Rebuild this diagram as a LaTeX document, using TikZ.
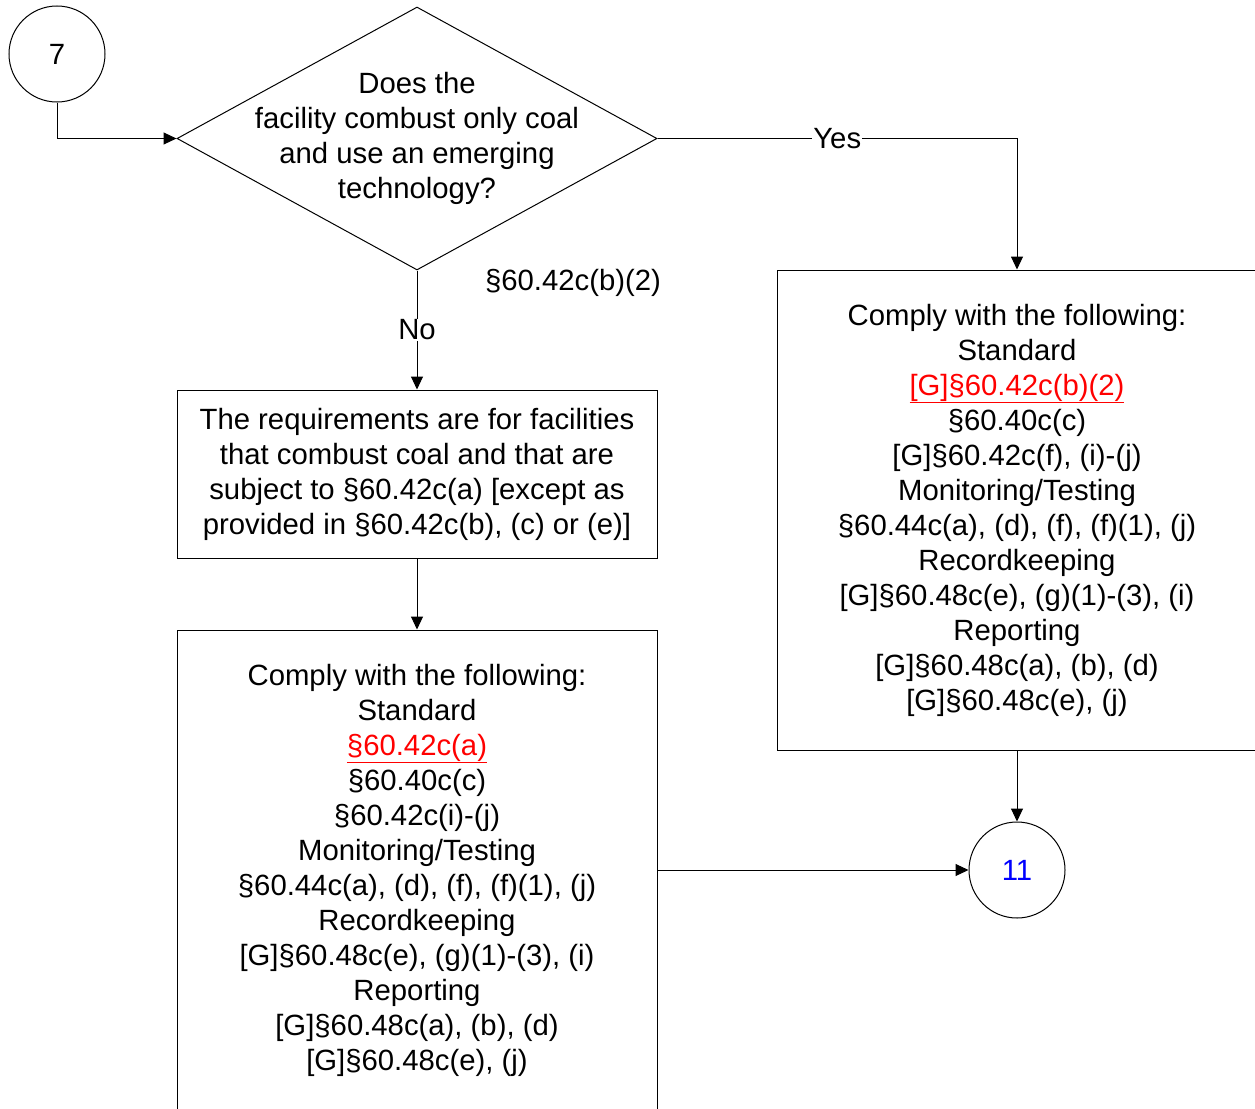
\documentclass[tikz,border=0pt]{standalone}
\usepackage{fontspec}
\setmainfont{Liberation Sans}
\usetikzlibrary{shapes.geometric,arrows.meta}
\tikzset{
  base/.style={font=\fontsize{29.3pt}{35pt}\selectfont, align=center, inner sep=0pt},
  circ/.style={base, draw, circle, minimum size=96pt, line width=1pt},
  dia/.style={draw, diamond, minimum width=480pt, minimum height=263pt, inner sep=0pt, line width=1pt},
  box/.style={base, draw, rectangle, minimum width=480pt, line width=1pt},
  lbl/.style={base, fill=white, inner sep=1pt},
  arr/.style={line width=1pt, -{Triangle[length=13pt,width=12pt]}},
}
\begin{document}
\begin{tikzpicture}[x=1pt,y=-1pt]
\useasboundingbox (0,0) rectangle (1255,1108);
\clip (0,0) rectangle (1255,1108);
\fill[white] (0,0) rectangle (1255,1108);

\node[circ] (c7) at (57,54) {7};
\node[dia] (d) at (417,138.5) {};
\node[base] (dtext) at (d.center) {Does the\\facility combust only coal\\and use an emerging\\technology?};
\node[base] (cite) at (573,283) {§60.42c(b)(2)};

\node[box, minimum height=168pt] (mb) at (417,474) {The requirements are for facilities\\that combust coal and that are\\subject to §60.42c(a) [except as\\provided in §60.42c(b), (c) or (e)]};

\node[box, minimum height=480pt] (bb) at (417,870) {Comply with the following:\\Standard\\\textcolor{red}{\underline{§60.42c(a)}}\\§60.40c(c)\\§60.42c(i)-(j)\\Monitoring/Testing\\§60.44c(a), (d), (f), (f)(1), (j)\\Recordkeeping\\{[G]}§60.48c(e), (g)(1)-(3), (i)\\Reporting\\{[G]}§60.48c(a), (b), (d)\\{[G]}§60.48c(e), (j)};

\node[box, minimum height=480pt] (rb) at (1017,510) {Comply with the following:\\Standard\\\textcolor{red}{\underline{[G]§60.42c(b)(2)}}\\§60.40c(c)\\{[G]}§60.42c(f), (i)-(j)\\Monitoring/Testing\\§60.44c(a), (d), (f), (f)(1), (j)\\Recordkeeping\\{[G]}§60.48c(e), (g)(1)-(3), (i)\\Reporting\\{[G]}§60.48c(a), (b), (d)\\{[G]}§60.48c(e), (j)};

\node[circ] (c11) at (1017,870) {\textcolor{blue}{11}};

\draw[arr] (c7.south) |- (d.west);
\draw[arr] (d.east) -| node[lbl, pos=0.25] (yes) {Yes} (rb.north);
\draw[arr] (d.south) -- node[lbl] (no) {No} (mb.north);
\draw[arr] (mb.south) -- (bb.north);
\draw[arr] (rb.south) -- (c11.north);
\draw[arr] (bb.east) -- (c11.west);
\end{tikzpicture}
\end{document}
